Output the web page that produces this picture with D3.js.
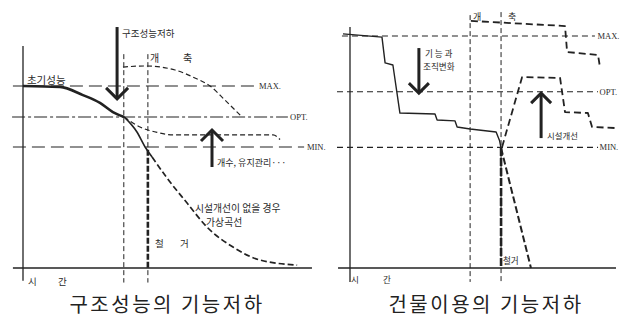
<!DOCTYPE html>
<html>
<head>
<meta charset="utf-8">
<script src="https://cdn.jsdelivr.net/npm/d3@7"></script>
<style>
  body { margin: 0; background: #fff; }
  text { font-family: "Noto Sans CJK KR", sans-serif; fill: #2a2a2a; }
  .lvl { font-family: "Liberation Serif", serif; font-size: 8.5px; }
  .cap { font-size: 20px; letter-spacing: 2.5px; fill: #222; }
</style>
</head>
<body>
<div id="chart"></div>
<script>
/* Two diagrams: functional decline of structure / of building use */

// ---- left: 구조성능의 기능저하  (time 0-100, performance 0-100) ----
const levelsL = [["MAX.", 100], ["OPT.", 83], ["MIN.", 66.5]];
const initialL = [[0, 100], [13.2, 99.5], [21.4, 95], [27.5, 90.7], [32.1, 85.7], [36.1, 83]];
const declineL = [[36.1, 83], [40.7, 74.7], [43.6, 66.5], [46.1, 61]];
const rebuildL = [[35.7, 110.4], [43.6, 111], [54.3, 108.8], [61.4, 104.4], [66.8, 100], [72.1, 92.3], [78.2, 83]];
const repairL = [[36.1, 83], [41.8, 77.5], [47.9, 74.5], [53.6, 73.1], [89.3, 73.1], [91.8, 70.6]];
const virtualL = [[46.1, 61], [51.4, 49.5], [58.6, 35.7], [65.7, 22.5], [75, 11.5], [84.6, 4.4], [97.9, 1.6]];
const markersL = [36, 44.6];
const demolishL = 44.6;
const arrowsL = [[33.6, 132.4, 92.9], [67.5, 55.5, 75.8]];   // [time, from, tip]
const labelsL = [
    ["초기성능", 1.4, 103.3, 10.5],
    ["구조성능저하", 35.4, 129.1, 9.5],
    ["개", 45.4, 115.4, 10],
    ["축", 57.1, 115.4, 10],
    ["개수, 유지관리···", 69.3, 57.7, 9],
    ["시설개선이 없을 경우", 61.4, 33, 9.8],
    ["가상곡선", 65.4, 25.3, 9.8],
    ["철", 47.1, 13.7, 9.5],
    ["거", 56.1, 13.7, 9.5],
    ["시", 1.8, -7.1, 9.5],
    ["간", 12.5, -7.1, 9.5]
];

// ---- right: 건물이용의 기능저하 ----
const levelsR = [["MAX.", 100], ["OPT.", 76], ["MIN.", 52]];
const usageR = [[-2.7, 100.9], [12.3, 99.5], [13.5, 88.4], [16.5, 87.5], [19.2, 66.8], [32.7, 66.4],
    [33.5, 63.8], [40.4, 63.4], [41.2, 60.8], [46.2, 59.9], [56.2, 58.6], [57.5, 55], [58.1, 51.7], [58.5, 48.3]];
const rebuildR = [[46.5, 106.5], [82.7, 104.3], [83.5, 93.1], [95.4, 91.8], [96.2, 86.2]];
const improveR = [[58.5, 52.2], [66.2, 82.3], [80.8, 81.9], [82.7, 67.2], [91.5, 66.8], [93.1, 60.8], [102.7, 60.3]];
const demolishR = [[58.1, 51.7], [69.6, 0]];
const markersR = [46.2, 58.1];
const arrowsR = [[26.5, 94.8, 75.4], [73.5, 56, 75.4]];
const labelsR = [
    ["기 능 과", 28.8, 92.7, 8.6],
    ["조직변화", 28.1, 87.1, 8.6],
    ["시설개선", 75.8, 57.3, 8.4],
    ["개", 47.3, 108.6, 9],
    ["축", 60.8, 108.6, 9],
    ["철거", 58.8, 3.4, 8.6],
    ["시", 0.4, -4.7, 8.6],
    ["간", 12.7, -4.7, 8.6]
];

const captions = ["구조성능의 기능저하", "건물이용의 기능저하"];

const width = 622, height = 320;
const ink = "#222";

let svg = d3.select("#chart")
    .append("svg")
    .attr("width", width)
    .attr("height", height);

const xL = d3.scaleLinear().domain([0, 100]).range([23, 303]);
const yL = d3.scaleLinear().domain([0, 100]).range([268, 86]);
const xR = d3.scaleLinear().domain([0, 100]).range([350, 610]);
const yR = d3.scaleLinear().domain([0, 100]).range([268, 36]);

function seg(x, y, x1, y1, x2, y2, sw, dash) {
    svg.append("line")
        .attr("x1", x(x1)).attr("y1", y(y1))
        .attr("x2", x(x2)).attr("y2", y(y2))
        .attr("stroke", ink)
        .attr("stroke-width", sw)
        .attr("stroke-dasharray", dash || null);
}

function path(x, y, data, sw, dash, curve) {
    const line = d3.line()
        .x(d => x(d[0]))
        .y(d => y(d[1]))
        .curve(curve || d3.curveLinear);
    svg.append("path")
        .attr("d", line(data))
        .attr("fill", "none")
        .attr("stroke", ink)
        .attr("stroke-width", sw)
        .attr("stroke-linejoin", "round")
        .attr("stroke-dasharray", dash || null);
}

function arrow(x, y, a, head) {
    const px = x(a[0]), y0 = y(a[1]), y1 = y(a[2]);
    const dir = y1 > y0 ? -1 : 1;
    svg.append("line")
        .attr("x1", px).attr("y1", y0)
        .attr("x2", px).attr("y2", y1 + dir * 1)
        .attr("stroke", ink).attr("stroke-width", 3);
    svg.append("polyline")
        .attr("points", [[px - head, y1 + dir * head], [px, y1], [px + head, y1 + dir * head]].join(" "))
        .attr("fill", "none").attr("stroke", ink)
        .attr("stroke-width", 3).attr("stroke-linejoin", "miter");
}

function labels(x, y, list) {
    svg.append("g").selectAll("text")
        .data(list)
        .join("text")
        .attr("x", d => x(d[1]))
        .attr("y", d => y(d[2]))
        .attr("dominant-baseline", "central")
        .attr("font-size", d => d[3])
        .text(d => d[0]);
}

/* left chart */
// level lines
seg(xL, yL, -3.6, levelsL[0][1], 83.6, levelsL[0][1], 1.1, "13,6");
seg(xL, yL, -3.9, levelsL[1][1], 94.6, levelsL[1][1], 1.1, "13,3,3,3");
seg(xL, yL, -3.6, levelsL[2][1], 100.4, levelsL[2][1], 1.1, "13,6");
svg.append("g").selectAll("text")
    .data(levelsL)
    .join("text")
    .attr("class", "lvl")
    .attr("x", (d, i) => xL([84.3, 95.4, 101.4][i]))
    .attr("y", d => yL(d[1]))
    .attr("dominant-baseline", "central")
    .text(d => d[0]);

// axes
seg(xL, yL, 0, -7, 0, 122, 1.3);
seg(xL, yL, -3.6, 0, 103.2, 0, 1.3);

// rebuild markers
for (let m of markersL) seg(xL, yL, m, 117.5, m, -8, 1, "5,3");

path(xL, yL, initialL, 2.6, null, d3.curveMonotoneX);
path(xL, yL, declineL, 1.6, null, d3.curveMonotoneX);
path(xL, yL, rebuildL, 1.2, "5,3", d3.curveMonotoneX);
path(xL, yL, repairL, 1.2, "5,3", d3.curveMonotoneX);
path(xL, yL, virtualL, 1.7, "6,3", d3.curveMonotoneX);
seg(xL, yL, demolishL, 65, demolishL, 0, 2.6, "6,2");

for (let a of arrowsL) arrow(xL, yL, a, 11);
labels(xL, yL, labelsL);

/* right chart */
for (let [i, l] of levelsR.entries()) {
    seg(xR, yR, i == 0 ? -3.1 : -5, l[1], i == 0 ? 94.2 : 95.4, l[1], 1.1, "6,4");
}
svg.append("g").selectAll("text")
    .data(levelsR)
    .join("text")
    .attr("class", "lvl")
    .attr("x", (d, i) => xR(i == 0 ? 95.2 : 96))
    .attr("y", d => yR(d[1]))
    .attr("dominant-baseline", "central")
    .text(d => d[0]);

seg(xR, yR, 0, -6, 0, 103.9, 1.3);
seg(xR, yR, -4.6, 0, 102.3, 0, 1.3);

seg(xR, yR, markersR[0], 109, markersR[0], -6, 1, "5,3");
seg(xR, yR, markersR[1], 110.3, markersR[1], -6, 1, "5,3");

path(xR, yR, usageR, 1.4);
path(xR, yR, rebuildR, 1.8, "7,4");
path(xR, yR, improveR, 1.8, "7,4");
path(xR, yR, demolishR, 2, "7,3");
seg(xR, yR, markersR[1], 51.7, markersR[1], 0, 2.6, "8,2");

for (let a of arrowsR) arrow(xR, yR, a, 10);
labels(xR, yR, labelsR);

/* captions */
svg.append("g").selectAll("text")
    .data(captions)
    .join("text")
    .attr("class", "cap")
    .attr("x", (d, i) => i == 0 ? 167 : 486)
    .attr("y", 303)
    .attr("text-anchor", "middle")
    .attr("dominant-baseline", "central")
    .text(d => d);
</script>
</body>
</html>
